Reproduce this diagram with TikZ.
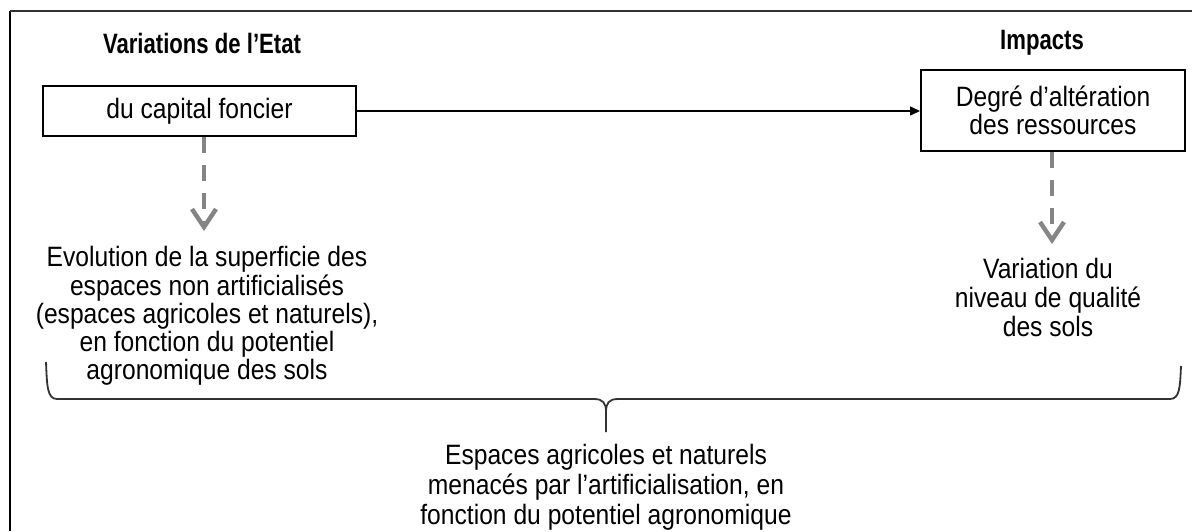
\documentclass[tikz,border=0pt]{standalone}
\usepackage{fontspec}
\setmainfont{Liberation Sans}[FakeStretch=0.88]
\newfontfamily\titlefont{Liberation Sans}[FakeStretch=0.79]
\usetikzlibrary{arrows.meta}

\begin{document}
\begin{tikzpicture}[
x=0.5pt,y=-0.5pt,
boxnode/.style={draw,line width=1pt,align=center,inner sep=0pt,font=\fontsize{14}{14}\selectfont},
titlenode/.style={inner sep=0pt,font=\titlefont\bfseries\fontsize{14}{14}\selectfont},
textnode/.style={align=center,inner sep=0pt,font=\fontsize{14}{#1}\selectfont},
textnode/.default=14.5,
dasharrow/.style={draw=black!48,line width=2.2pt,dash pattern=on 8pt off 6pt,-{Straight Barb[length=9pt,width=12pt]}},
bracepath/.style={line width=0.9pt,draw=black!80},
>={Triangle[length=5pt,width=4.5pt]}]
\useasboundingbox (0,0) rectangle (1192,531);
% frame
\draw[line width=1.1pt] (10,531) -- (10,11);
\draw[line width=0.85pt,black!80] (10,11) -- (1192,11);
% titles
\node[titlenode] (etat) at (202,43) {Variations de l’Etat};
\node[titlenode] (impacts) at (1042,43) {Impacts};
% boxes
\node[boxnode,minimum width=156.5pt,minimum height=25pt] (capital) at (199.5,111) {du capital foncier};
\node[boxnode,minimum width=132pt,minimum height=40.5pt] (degre) at (1053,110.5) {Degré d’altération\\des ressources};
% texts
\node[textnode=12.5] (evolution) at (207,316) {Evolution de la superficie des\\espaces non artificialisés\\(espaces agricoles et naturels),\\en fonction du potentiel\\agronomique des sols};
\node[textnode] (qualite) at (1048,297) {Variation du\\niveau de qualité\\des sols};
\node[textnode=15] (menaces) at (606,487) {Espaces agricoles et naturels\\menacés par l’artificialisation, en\\fonction du potentiel agronomique};
% arrows
\coordinate (tipA) at (204,231);
\coordinate (tipB) at (1052,244);
\draw[->,line width=0.7pt] (capital.east) -- (capital.east -| degre.west);
\draw[dasharrow] (capital.south -| tipA) -- (tipA);
\draw[dasharrow] (degre.south -| tipB) -- (tipB);
% brace
\draw[bracepath] (46,362) .. controls (47,385) and (47,399) .. (57,399) -- (594,399)
  .. controls (603,399) and (606,403) .. (606,412) -- (606,432);
\draw[bracepath] (1181,366) .. controls (1180,386) and (1180,399) .. (1170,399) -- (618,399)
  .. controls (609,399) and (606,403) .. (606,412);
\end{tikzpicture}
\end{document}
